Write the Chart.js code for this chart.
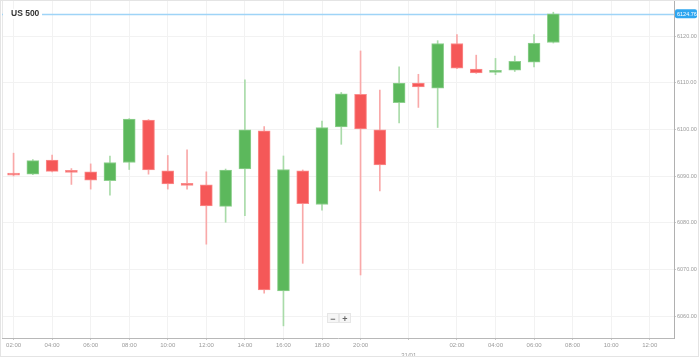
<!DOCTYPE html>
<html>
<head>
<meta charset="utf-8">
<script src="https://cdn.jsdelivr.net/npm/chart.js@4/dist/chart.umd.min.js"></script>
<style>
  body { margin: 0; background: #fff; }
  #wrap { position: relative; width: 699px; height: 357px; box-sizing: border-box; border: 1px solid #e4e4e4; }
  canvas { display: block; }
  #zoomBtns { position: absolute; left: 326px; top: 312px; display: flex; }
  #zoomBtns span {
    width: 10px; height: 8px; line-height: 8px; text-align: center;
    font: bold 9px "Liberation Sans", Arial, sans-serif; color: #666;
    background: #f6f6f6; border: 1px solid #e6e6e6;
  }
</style>
</head>
<body>
<div id="wrap">
  <canvas id="chart" width="697" height="355"></canvas>
  <div id="zoomBtns"><span>−</span><span>+</span></div>
</div>
<script>
// 1時間足 (02:00 〜 翌 08:00)
const opens  = [6090.4, 6090.4, 6093.4, 6091.2, 6090.9, 6089.0, 6092.9, 6102.0, 6091.1, 6088.3,
                6088.1, 6083.5, 6091.5, 6099.7, 6065.4, 6091.1, 6083.9, 6100.5, 6107.5, 6099.9,
                6105.7, 6109.9, 6108.8, 6118.4, 6112.9, 6112.2, 6112.7, 6114.4, 6118.6];
const highs  = [6094.9, 6093.5, 6094.5, 6091.6, 6092.6, 6094.3, 6102.3, 6102.1, 6094.4, 6095.6,
                6090.9, 6091.5, 6110.6, 6100.6, 6094.3, 6091.3, 6101.8, 6107.9, 6116.8, 6108.4,
                6113.4, 6111.8, 6119.0, 6120.3, 6115.9, 6115.2, 6115.7, 6120.3, 6125.1];
const lows   = [6090.0, 6090.3, 6090.9, 6088.2, 6087.2, 6085.9, 6091.4, 6090.4, 6087.2, 6087.2,
                6075.4, 6080.1, 6081.5, 6064.9, 6057.9, 6071.3, 6082.7, 6096.8, 6068.8, 6086.8,
                6101.4, 6104.7, 6100.4, 6113.0, 6112.0, 6111.7, 6112.4, 6113.4, 6118.5];
const closes = [6090.2, 6093.3, 6091.0, 6090.8, 6089.1, 6092.9, 6102.2, 6091.3, 6088.3, 6088.0,
                6083.6, 6091.3, 6099.9, 6065.6, 6091.4, 6084.1, 6100.4, 6107.6, 6100.1, 6092.4,
                6109.9, 6109.1, 6118.4, 6113.1, 6112.1, 6112.6, 6114.6, 6118.5, 6124.76];

// x軸ラベル（ローソク足の番号で位置を指定）
const xTickPos    = [0, 2, 4, 6, 8, 10, 12, 14, 16, 18, 20.5, 23, 25, 27, 29, 31, 33];
const xTickLabels = ["02:00", "04:00", "06:00", "08:00", "10:00", "12:00", "14:00", "16:00", "18:00",
                     "20:00", "31/01", "02:00", "04:00", "06:00", "08:00", "10:00", "12:00"];
const yTicks = [6060, 6070, 6080, 6090, 6100, 6110, 6120];

const title = "US 500";
const lastPrice = closes[closes.length - 1];

const GREEN = "#5cb85c", RED = "#f55858";
const GREEN_W = "#a9dba9", RED_W = "#f9a9a9";
const GREEN_B = "#8fd08f", RED_B = "#fb8d8d";

const up = opens.map((o, i) => closes[i] >= o);

const bodies = opens.map((o, i) => ({ x: i, y: [o, closes[i]] }));
const wicks  = lows.map((l, i) => ({ x: i, y: [l, highs[i]] }));

// 現在値ライン・ラベル・タイトル
const overlay = {
  id: "overlay",
  beforeDatasetsDraw(chart) {
    const { ctx, chartArea: a, scales } = chart;
    ctx.save();
    // 左の枠
    ctx.strokeStyle = "#e8e8e8";
    ctx.lineWidth = 1;
    ctx.beginPath();
    ctx.moveTo(a.left + 0.5, a.top);
    ctx.lineTo(a.left + 0.5, a.bottom);
    ctx.stroke();
    // 現在値
    const y = Math.round(scales.y.getPixelForValue(lastPrice)) + 0.5;
    ctx.strokeStyle = "#9fd4f7";
    ctx.lineWidth = 1.5;
    ctx.beginPath();
    ctx.moveTo(a.left, y);
    ctx.lineTo(a.right, y);
    ctx.stroke();
    ctx.restore();
  },
  afterDraw(chart) {
    const { ctx, chartArea: a, scales } = chart;
    const y = scales.y.getPixelForValue(lastPrice);
    ctx.save();
    // 右側の価格ラベル
    ctx.fillStyle = "#2ea6f0";
    ctx.beginPath();
    ctx.roundRect(a.right + 1, y - 4.5, 22, 9, 2);
    ctx.fill();
    ctx.fillStyle = "#fff";
    ctx.font = "5.5px 'Liberation Sans', Arial, sans-serif";
    ctx.textAlign = "left";
    ctx.textBaseline = "middle";
    ctx.fillText(lastPrice.toFixed(2), a.right + 3, y + 0.5);
    // タイトル
    ctx.fillStyle = "#fff";
    ctx.fillRect(a.left + 1, y - 5, 39, 10);
    ctx.fillStyle = "#333";
    ctx.font = "bold 8.5px 'Liberation Sans', Arial, sans-serif";
    ctx.fillText(title, a.left + 9, y);
    ctx.restore();
  },
};

new Chart(document.getElementById("chart"), {
  type: "bar",
  data: {
    datasets: [
      {
        label: "body",
        data: bodies,
        backgroundColor: up.map((u) => (u ? GREEN : RED)),
        borderColor: up.map((u) => (u ? GREEN_B : RED_B)),
        borderWidth: 1,
        borderSkipped: false,
        barThickness: 12,
        minBarLength: 2,
        grouped: false,
        order: 1,
      },
      {
        label: "wick",
        data: wicks,
        backgroundColor: up.map((u) => (u ? GREEN_W : RED_W)),
        borderWidth: 0,
        barThickness: 1,
        grouped: false,
        order: 2,
      },
    ],
  },
  options: {
    responsive: false,
    devicePixelRatio: 1,
    animation: false,
    layout: { padding: { left: 1, top: 0, right: 0, bottom: 0 } },
    plugins: { legend: { display: false }, tooltip: { enabled: false } },
    scales: {
      x: {
        type: "linear",
        offset: false,
        min: -0.6,
        max: 34.26,
        afterBuildTicks: (s) => { s.ticks = xTickPos.map((v) => ({ value: v })); },
        afterFit: (s) => { s.height = 18; s.paddingLeft = 0; s.paddingRight = 0; },
        ticks: {
          autoSkip: false,
          maxRotation: 0,
          padding: 1,
          color: "#9a9a9a",
          font: { size: 6, family: "'Liberation Sans', Arial, sans-serif", lineHeight: 1.6 },
          callback: (v) => {
            const l = xTickLabels[xTickPos.indexOf(v)];
            return l === "31/01" ? ["", l] : l;
          },
        },
        grid: { offset: false, color: "#f2f2f2", tickColor: "#c8c8c8", tickLength: 2 },
        border: { color: "#b8b8b8" },
      },
      y: {
        position: "right",
        min: 6055.3,
        max: 6127.5,
        afterBuildTicks: (s) => { s.ticks = yTicks.map((v) => ({ value: v })); },
        afterFit: (s) => { s.width = 24; s.paddingTop = 0; s.paddingBottom = 0; },
        ticks: {
          padding: 1,
          color: "#9a9a9a",
          font: { size: 5.5, family: "'Liberation Sans', Arial, sans-serif" },
          callback: (v) => v.toFixed(2),
        },
        grid: { color: "#f2f2f2", tickColor: "#c8c8c8", tickLength: 2 },
        border: { color: "#b0b0b0" },
      },
    },
  },
  plugins: [overlay],
});
</script>
</body>
</html>
